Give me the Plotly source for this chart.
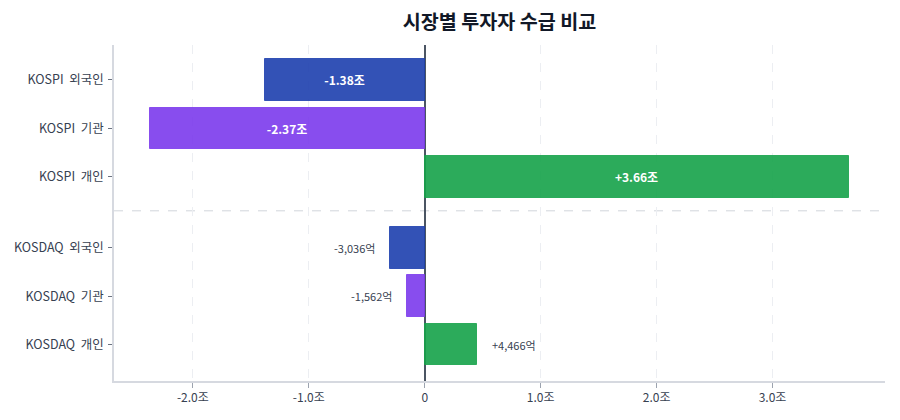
import plotly.graph_objects as go

categories = ["KOSPI 외국인", "KOSPI 기관", "KOSPI 개인", "KOSDAQ 외국인", "KOSDAQ 기관", "KOSDAQ 개인"]
values_jo = [-1.38, -2.37, 3.66, -0.3036, -0.1562, 0.4466]
labels = ["-1.38조", "-2.37조", "+3.66조", "-3,036억", "-1,562억", "+4,466억"]
positions = [0, 1, 2, 3.46, 4.46, 5.46]
tick_vals = [-2, -1, 0, 1, 2, 3]
tick_text = ["-2.0조", "-1.0조", "0", "1.0조", "2.0조", "3.0조"]

base_colors = {"외국인": "#1e40af", "기관": "#7c3aed", "개인": "#16a34a"}
colors = [base_colors[c.split()[-1]] for c in categories]
y_ticktext = [c.replace(" ", "\u00a0\u00a0") for c in categories]

FONT = "Noto Sans CJK KR, Noto Sans, sans-serif"

fig = go.Figure()
inside_text = [l if "조" in l else "" for l in labels]
fig.add_trace(go.Bar(
    y=positions, x=values_jo, orientation="h",
    marker=dict(color=colors, opacity=0.9, line=dict(color=colors, width=1)),
    width=0.86,
    text=inside_text, textposition="inside", insidetextanchor="middle",
    textfont=dict(color="white", size=12, family=FONT, weight="bold"),
    hoverinfo="skip",
))

for p, v, l in zip(positions, values_jo, labels):
    if "억" in l:
        fig.add_annotation(
            x=v, y=p, text=l, showarrow=False,
            xanchor="right" if v < 0 else "left",
            xshift=-13 if v < 0 else 13,
            font=dict(size=11, color="#374151", family=FONT),
        )

fig.add_shape(type="line", xref="paper", x0=0, x1=1, yref="y", y0=2.7, y1=2.7,
              line=dict(color="#d1d5db", width=1, dash="dash"), layer="below")

fig.update_layout(
    width=900, height=420,
    margin=dict(l=114, r=15, t=45, b=39),
    paper_bgcolor="white", plot_bgcolor="white",
    font=dict(family=FONT, color="#374151", size=12),
    title=dict(text="<b>시장별 투자자 수급 비교</b>", x=0.5, xref="paper", xanchor="center",
               y=0.948, yanchor="middle", font=dict(size=19.6, color="#111827", family=FONT)),
    showlegend=False,
    bargap=0,
)
fig.update_xaxes(
    range=[-2.68, 3.97],
    tickvals=tick_vals, ticktext=tick_text,
    showgrid=True, gridcolor="#eceef2", griddash="dash", gridwidth=1,
    zeroline=True, zerolinecolor="#4b5563", zerolinewidth=1.5,
    showline=True, linecolor="#d6d9e0", linewidth=1.5,
    ticks="outside", ticklen=5, tickcolor="#9ca3af",
    tickfont=dict(size=12, color="#374151"),
)
fig.update_yaxes(
    range=[6.21, -0.72],
    tickvals=positions, ticktext=y_ticktext,
    showgrid=False, zeroline=False,
    showline=True, linecolor="#d6d9e0", linewidth=1.5,
    ticks="outside", ticklen=4, tickcolor="#6b7280",
    ticklabelstandoff=2,
    tickfont=dict(size=12.5, color="#374151"),
)

fig.write_html("out.html")
